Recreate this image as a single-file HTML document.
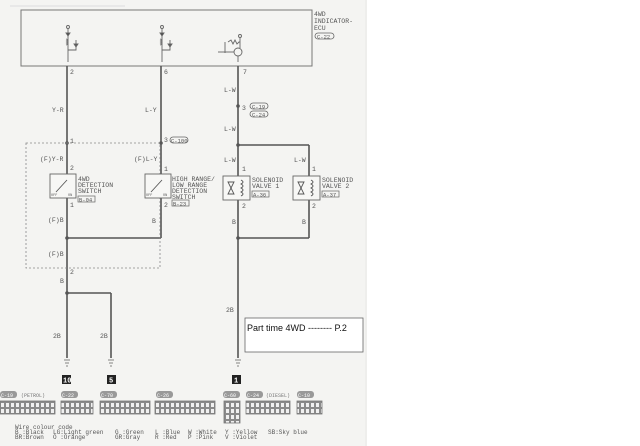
<!DOCTYPE html>
<html><head><meta charset="utf-8"><style>
html,body{margin:0;padding:0;background:#fff;}
svg{display:block;}
text{font-family:"Liberation Mono",monospace;fill:#555;}
</style></head><body>
<svg width="640" height="446" viewBox="0 0 640 446" xmlns="http://www.w3.org/2000/svg">
<defs>
<pattern id="cp" x="0" y="0" width="5" height="6" patternUnits="userSpaceOnUse">
<rect x="0" y="0" width="5" height="6" fill="#8a8a8a"/><rect x="1" y="1" width="3" height="4" fill="#f0f0f0"/>
</pattern>
</defs>
<rect x="0" y="0" width="367" height="446" fill="#f4f4f2"/>
<line x1="366" y1="0" x2="366" y2="446" stroke="#e8e8e6" stroke-width="1"/>
<line x1="10" y1="6" x2="125" y2="6" stroke="#ddd" stroke-width="1"/>
<rect x="21" y="10" width="291" height="56" fill="none" stroke="#777" stroke-width="1"/>
<text x="314" y="16" font-size="6.5">4WD</text>
<text x="314" y="23" font-size="6.5">INDICATOR-</text>
<text x="314" y="30" font-size="6.5">ECU</text>
<rect x="315" y="33" width="19" height="6" rx="3" fill="none" stroke="#666" stroke-width="0.8"/>
<text x="317" y="38.5" font-size="5.5">C-22</text>
<g stroke="#666" stroke-width="0.9" fill="none">
<circle cx="68" cy="27" r="1.5"/><line x1="68" y1="29" x2="68" y2="62"/>
<path d="M66,33 L70,33 L68,36 Z" fill="#444"/><path d="M66,39 q4,1 0,2 q4,1 0,2 q4,1 0,2"/>
<path d="M74,44 L78,44 L76,47 Z" fill="#444"/><path d="M68,50 L76,50 L76,40"/>
<circle cx="162" cy="27" r="1.5"/><line x1="162" y1="29" x2="162" y2="62"/>
<path d="M160,33 L164,33 L162,36 Z" fill="#444"/><path d="M160,39 q4,1 0,2 q4,1 0,2 q4,1 0,2"/>
<path d="M168,44 L172,44 L170,47 Z" fill="#444"/><path d="M162,50 L170,50 L170,40"/>
<circle cx="240" cy="36" r="1.5"/><line x1="240" y1="38" x2="240" y2="48"/>
<path d="M228,42 l3,-2 l2,4 l2,-4 l2,4 l2,-2 L240,42"/><line x1="225" y1="42" x2="225" y2="53"/>
<circle cx="238" cy="52" r="4"/><line x1="218" y1="52" x2="234" y2="52"/><line x1="238" y1="56" x2="238" y2="62"/>
</g>
<g stroke="#555" stroke-width="1.6" fill="none">
<line x1="67" y1="66" x2="67" y2="174"/><line x1="67" y1="198" x2="67" y2="358"/>
<line x1="161" y1="66" x2="161" y2="174"/><line x1="161" y1="198" x2="161" y2="238"/>
<line x1="67" y1="238" x2="161" y2="238"/>
<line x1="238" y1="66" x2="238" y2="176"/><line x1="238" y1="200" x2="238" y2="358"/>
<line x1="238" y1="145" x2="309" y2="145"/><line x1="309" y1="145" x2="309" y2="176"/>
<line x1="309" y1="200" x2="309" y2="238"/><line x1="238" y1="238" x2="309" y2="238"/>
<line x1="67" y1="293" x2="111" y2="293"/><line x1="111" y1="293" x2="111" y2="358"/>
</g>
<g fill="#555"><circle cx="67" cy="143" r="1.8"/><circle cx="161" cy="143" r="1.8"/><circle cx="238" cy="145" r="1.8"/><circle cx="238" cy="106" r="1.8"/><circle cx="67" cy="238" r="1.8"/><circle cx="238" cy="238" r="1.8"/><circle cx="67" cy="293" r="1.8"/></g>
<rect x="26" y="143" width="134" height="125" fill="none" stroke="#888" stroke-width="0.8" stroke-dasharray="2,2"/>
<g font-size="6.5">
<text x="70" y="74">2</text><text x="164" y="74">6</text><text x="243" y="74">7</text>
<text x="52" y="112">Y-R</text><text x="145" y="112">L-Y</text><text x="224" y="92">L-W</text><text x="224" y="131">L-W</text>
<text x="242" y="110">3</text>
<text x="70" y="143">1</text><text x="164" y="142">3</text>
<text x="40" y="161">(F)Y-R</text><text x="134" y="161">(F)L-Y</text><text x="224" y="162">L-W</text><text x="294" y="162">L-W</text>
<text x="70" y="170">2</text><text x="164" y="171">1</text><text x="242" y="171">1</text><text x="312" y="171">1</text>
<text x="70" y="207">1</text><text x="164" y="207">2</text><text x="242" y="208">2</text><text x="312" y="208">2</text>
<text x="48" y="222">(F)B</text><text x="152" y="223">B</text><text x="232" y="224">B</text><text x="302" y="224">B</text>
<text x="48" y="256">(F)B</text><text x="70" y="274">2</text><text x="60" y="283">B</text>
<text x="53" y="338">2B</text><text x="100" y="338">2B</text><text x="226" y="312">2B</text>
</g>
<g font-size="5.5">
<rect x="250" y="103" width="18" height="6" rx="3" fill="none" stroke="#666" stroke-width="0.8"/><text x="252" y="108.5">C-19</text>
<rect x="250" y="111" width="18" height="6" rx="3" fill="none" stroke="#666" stroke-width="0.8"/><text x="252" y="116.5">C-24</text>
<rect x="170" y="137" width="18" height="6" rx="3" fill="none" stroke="#666" stroke-width="0.8"/><text x="171" y="142.5">C-100</text>
</g>
<g stroke="#666" stroke-width="0.9" fill="#f7f7f5">
<rect x="50" y="174" width="26" height="24"/><rect x="145" y="174" width="26" height="24"/>
<rect x="223" y="176" width="27" height="24"/><rect x="293" y="176" width="27" height="24"/>
</g>
<g stroke="#555" stroke-width="0.9" fill="none">
<line x1="56" y1="192" x2="67" y2="180"/><line x1="151" y1="192" x2="162" y2="180"/>
<path d="M228,182 l6,0 l-3,6 l3,6 l-6,0 l3,-6 z"/><path d="M241,180 q4,2 0,4 q4,2 0,4 q4,2 0,4 q4,2 0,4"/>
<path d="M298,182 l6,0 l-3,6 l3,6 l-6,0 l3,-6 z"/><path d="M311,180 q4,2 0,4 q4,2 0,4 q4,2 0,4 q4,2 0,4"/>
</g>
<g font-size="3.5"><text x="51" y="196">OFF</text><text x="68" y="196">ON</text><text x="146" y="196">OFF</text><text x="163" y="196">ON</text></g>
<g font-size="6.5">
<text x="78" y="181">4WD</text><text x="78" y="187">DETECTION</text><text x="78" y="193">SWITCH</text>
<text x="172" y="181">HIGH RANGE/</text><text x="172" y="187">LOW RANGE</text><text x="172" y="193">DETECTION</text><text x="172" y="199">SWITCH</text>
<text x="252" y="182">SOLENOID</text><text x="252" y="188">VALVE 1</text>
<text x="322" y="182">SOLENOID</text><text x="322" y="188">VALVE 2</text>
</g>
<g font-size="5.5">
<rect x="78" y="196" width="17" height="6" fill="none" stroke="#666" stroke-width="0.7"/><text x="79" y="201.5">B-04</text>
<rect x="172" y="200" width="17" height="6" fill="none" stroke="#666" stroke-width="0.7"/><text x="173" y="205.5">B-23</text>
<rect x="252" y="191" width="17" height="6" fill="none" stroke="#666" stroke-width="0.7"/><text x="253" y="196.5">A-36</text>
<rect x="322" y="191" width="17" height="6" fill="none" stroke="#666" stroke-width="0.7"/><text x="323" y="196.5">A-37</text>
</g>
<g stroke="#666" stroke-width="0.8">
<line x1="64" y1="360" x2="70" y2="360"/><line x1="65" y1="363" x2="69" y2="363"/><line x1="66" y1="366" x2="68" y2="366"/>
<line x1="108" y1="360" x2="114" y2="360"/><line x1="109" y1="363" x2="113" y2="363"/><line x1="110" y1="366" x2="112" y2="366"/>
<line x1="235" y1="360" x2="241" y2="360"/><line x1="236" y1="363" x2="240" y2="363"/><line x1="237" y1="366" x2="239" y2="366"/>
</g>
<rect x="62" y="375" width="9" height="9" fill="#222"/><text x="63" y="382.5" font-size="7" style="fill:#fff" font-weight="bold">10</text>
<rect x="107" y="375" width="9" height="9" fill="#222"/><text x="109" y="382.5" font-size="7" style="fill:#fff" font-weight="bold">5</text>
<rect x="232" y="375" width="9" height="9" fill="#222"/><text x="234" y="382.5" font-size="7" style="fill:#fff" font-weight="bold">1</text>
<rect x="245" y="318" width="118" height="34" fill="#fff" stroke="#666" stroke-width="0.8"/>
<text x="247" y="331" font-size="9" style="font-family:'Liberation Sans',sans-serif;fill:#111">Part time 4WD -------- P.2</text>
<g font-size="5">
<rect x="0" y="391" width="17" height="7" rx="3" fill="#999"/><text x="1" y="397" style="fill:#fff">C-19</text><text x="21" y="397" style="fill:#777">(PETROL)</text>
<rect x="61" y="391" width="17" height="7" rx="3" fill="#999"/><text x="62" y="397" style="fill:#fff">C-22</text>
<rect x="100" y="391" width="17" height="7" rx="3" fill="#999"/><text x="101" y="397" style="fill:#fff">C-70</text>
<rect x="156" y="391" width="17" height="7" rx="3" fill="#999"/><text x="157" y="397" style="fill:#fff">C-26</text>
<rect x="223" y="391" width="17" height="7" rx="3" fill="#999"/><text x="224" y="397" style="fill:#fff">C-60</text>
<rect x="246" y="391" width="17" height="7" rx="3" fill="#999"/><text x="247" y="397" style="fill:#fff">C-24</text><text x="266" y="397" style="fill:#777">(DIESEL)</text>
<rect x="297" y="391" width="17" height="7" rx="3" fill="#999"/><text x="298" y="397" style="fill:#fff">C-10</text>
</g>
<g fill="url(#cp)" stroke="#777" stroke-width="0.8">
<rect x="0" y="401" width="55" height="13"/><rect x="61" y="401" width="32" height="13"/><rect x="100" y="401" width="50" height="13"/>
<rect x="155" y="401" width="60" height="13"/><rect x="224" y="401" width="16" height="22"/><rect x="246" y="401" width="44" height="13"/><rect x="297" y="401" width="25" height="13"/>
</g>
<g font-size="6">
<text x="15" y="429">Wire colour code</text>
<text x="15" y="434">B :Black</text><text x="15" y="439">BR:Brown</text>
<text x="53" y="434">LG:Light green</text><text x="53" y="439">O :Orange</text>
<text x="115" y="434">G :Green</text><text x="115" y="439">GR:Gray</text>
<text x="155" y="434">L :Blue</text><text x="155" y="439">R :Red</text>
<text x="188" y="434">W :White</text><text x="188" y="439">P :Pink</text>
<text x="225" y="434">Y :Yellow</text><text x="225" y="439">V :Violet</text>
<text x="268" y="434">SB:Sky blue</text>
</g>
</svg>
</body></html>
